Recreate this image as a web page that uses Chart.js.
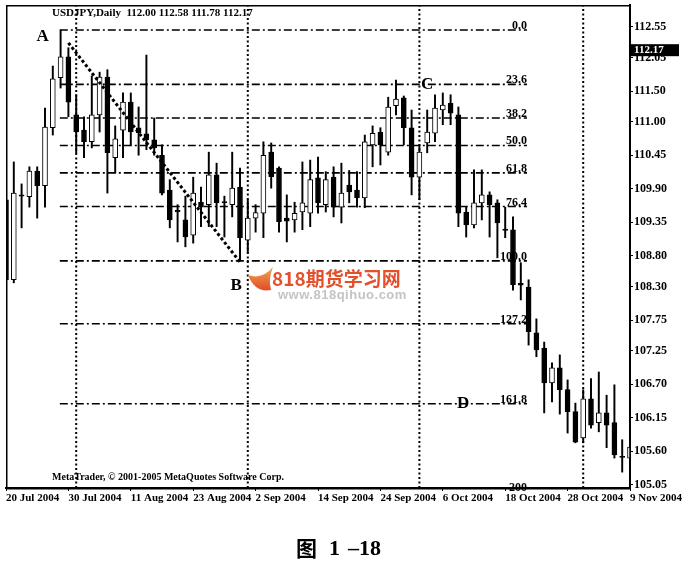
<!DOCTYPE html>
<html>
<head>
<meta charset="utf-8">
<script src="https://cdn.jsdelivr.net/npm/chart.js@4.4.1/dist/chart.umd.min.js"></script>
<style>
  html, body { margin: 0; padding: 0; background: #fff; }
  canvas { display: block; }
</style>
</head>
<body>
<canvas id="chart" width="682" height="563"></canvas>
<script>
// USDJPY daily, 20 Jul 2004 - 9 Nov 2004 (one bar per trading day)
const OPEN  = [109.72,108.41,109.80,109.77,110.19,109.95,110.90,111.72,112.06,111.11,
               110.86,110.67,111.11,111.73,110.41,110.86,111.32,110.90,110.80,110.70,
               110.45,109.88,109.55,109.39,109.14,109.68,109.64,110.13,109.69,109.64,
               109.93,109.06,109.42,109.50,110.50,110.24,109.42,109.39,109.52,109.50,
               110.08,109.64,110.09,109.60,109.96,109.88,109.75,110.62,110.83,110.50,
               111.26,111.39,110.90,110.09,110.65,110.81,111.19,111.30,111.11,109.52,
               109.31,109.67,109.80,109.67,109.24,109.23,108.35,108.29,107.54,107.29,
               106.72,106.97,106.61,106.25,105.82,106.46,106.07,106.23,106.07,105.52,
               105.49];
const HIGH  = [109.88,110.34,109.98,110.26,110.26,111.22,111.91,112.50,112.21,111.44,
               111.08,111.75,111.81,111.85,110.93,111.47,111.47,111.24,112.09,111.06,
               110.62,110.05,109.64,109.78,110.09,109.93,110.50,110.32,109.78,110.50,
               110.24,109.72,109.64,110.67,110.65,110.26,109.80,109.68,110.34,110.37,
               110.42,110.18,110.26,110.32,110.20,110.18,110.78,110.93,110.90,111.40,
               111.68,111.42,111.19,110.62,111.19,111.44,111.47,111.44,111.24,109.60,
               110.21,110.21,109.85,109.72,109.60,109.44,108.69,108.41,107.77,107.39,
               107.05,107.18,106.77,106.39,106.61,106.79,106.90,106.52,106.69,105.79,
               105.95];
const LOW   = [107.87,108.36,109.26,109.60,109.42,109.60,110.78,111.55,111.08,110.49,
               110.41,110.57,110.83,109.83,110.16,110.41,110.62,110.45,110.54,110.45,
               109.80,109.26,109.03,108.95,109.01,109.28,109.28,109.28,109.11,109.44,
               108.72,108.85,109.19,109.10,109.91,109.19,109.03,109.19,109.23,109.28,
               109.50,109.52,109.44,109.34,109.67,109.60,109.59,110.26,110.29,110.45,
               111.11,110.62,109.80,109.72,110.49,110.67,110.95,110.95,109.28,109.11,
               109.26,109.39,109.11,108.77,109.10,108.24,108.08,107.34,107.15,106.23,
               106.41,106.21,105.90,105.74,105.74,105.98,105.92,105.66,105.49,105.26,
               105.45];
const CLOSE = [108.41,109.83,109.78,110.19,109.95,110.91,111.70,112.06,111.32,110.83,
               110.67,111.11,111.73,110.49,110.72,111.32,110.83,110.82,110.70,110.57,
               109.83,109.39,109.52,109.11,109.83,109.60,110.13,109.67,109.67,109.91,
               109.10,109.42,109.51,110.45,110.10,109.36,109.37,109.50,109.67,110.05,
               109.67,110.05,109.60,109.83,109.85,109.75,110.67,110.81,110.62,111.24,
               111.37,110.90,110.09,110.50,110.83,111.22,111.27,111.14,109.50,109.31,
               109.67,109.80,109.64,109.34,109.22,108.33,108.32,107.56,107.26,106.72,
               106.97,106.61,106.25,105.75,106.46,106.03,106.23,106.03,105.54,105.50,
               105.67];

const X_TICK_BARS   = [0, 8, 16, 24, 32, 40, 48, 56, 64, 72, 80];
const X_TICK_LABELS = ['20 Jul 2004', '30 Jul 2004', '11 Aug 2004', '23 Aug 2004', '2 Sep 2004',
                       '14 Sep 2004', '24 Sep 2004', '6 Oct 2004', '18 Oct 2004', '28 Oct 2004', '9 Nov 2004'];
const Y_TICKS = [112.55, 112.05, 111.50, 111.00, 110.45, 109.90, 109.35, 108.80,
                 108.30, 107.75, 107.25, 106.70, 106.15, 105.60, 105.05];
const Y_MIN = 105.00, Y_MAX = 112.91;

// Fibonacci retracement A (112.50) -> B (108.72)
const FIB_LABELS = ['0.0', '23.6', '38.2', '50.0', '61.8', '76.4', '100.0', '127.2', '161.8', '200'];
const FIB_PRICES = [112.50, 111.61, 111.06, 110.61, 110.16, 109.61, 108.72, 107.69, 106.38, 104.94];
const FIB_FROM = 6.9, FIB_TO = 66.8;

const TREND_BARS   = [8, 30];
const TREND_PRICES = [112.29, 108.70];

const SEPARATOR_BARS = [9, 31, 53, 74];   // first bar of Aug, Sep, Oct, Nov

const POINT_NAMES  = ['A', 'B', 'C', 'D'];
const POINT_BARS   = [4.7, 29.5, 54, 58.6];
const POINT_PRICES = [112.39, 108.32, 111.60, 106.39];

const TITLE_TEXT = 'USDJPY,Daily  112.00 112.58 111.78 112.17';
const LAST_PRICE = 112.17;

const SERIF = '"Liberation Serif", "DejaVu Serif", serif';

const bodies = OPEN.map((o, i) => ({ x: i, y: [o, CLOSE[i]] }));
const wicks = HIGH.map((h, i) => ({ x: i, y: [LOW[i], h] }));
const bodyColors = OPEN.map((o, i) => CLOSE[i] >= o ? '#ffffff' : '#000000');

const fibSets = FIB_PRICES.map(p => ({
    type: 'line',
    data: [{ x: FIB_FROM, y: p }, { x: FIB_TO, y: p }],
    borderColor: '#000', borderWidth: 1.6, borderDash: [8, 3, 2, 3],
    pointRadius: 0, order: 3
}));

const sepSets = SEPARATOR_BARS.map(b => ({
    type: 'line',
    data: [{ x: b, y: Y_MIN }, { x: b, y: Y_MAX }],
    borderColor: '#000', borderWidth: 2, borderDash: [2, 2.5],
    pointRadius: 0, order: 4
}));

const overlay = {
    id: 'overlay',
    afterDraw(chart) {
        const { ctx, chartArea: a, scales: { x, y } } = chart;
        ctx.save();

        // plot frame
        ctx.strokeStyle = '#000';
        ctx.lineWidth = 1.5;
        ctx.strokeRect(a.left + 0.75, a.top + 0.75, a.right - a.left - 0.75, a.bottom - a.top);

        ctx.fillStyle = '#000';
        ctx.textBaseline = 'middle';
        ctx.textAlign = 'left';
        ctx.font = 'bold 11px ' + SERIF;
        ctx.fillText(TITLE_TEXT, 52, 13);

        ctx.font = 'bold 10px ' + SERIF;
        ctx.fillText('MetaTrader, \u00a9 2001-2005 MetaQuotes Software Corp.', 52, 477);

        // fib level texts
        ctx.font = 'bold 12px ' + SERIF;
        ctx.textAlign = 'right';
        ctx.textBaseline = 'alphabetic';
        const fx = x.getPixelForValue(FIB_TO);
        FIB_PRICES.forEach((p, i) => {
            ctx.fillText(FIB_LABELS[i], fx, y.getPixelForValue(p) - 1);
        });

        // swing points
        ctx.font = 'bold 17px ' + SERIF;
        ctx.textAlign = 'center';
        ctx.textBaseline = 'middle';
        POINT_NAMES.forEach((n, i) => {
            ctx.fillText(n, x.getPixelForValue(POINT_BARS[i]), y.getPixelForValue(POINT_PRICES[i]));
        });

        // last price box on the axis
        const ly = y.getPixelForValue(LAST_PRICE);
        ctx.fillRect(a.right + 1, ly - 6, 48, 12);
        ctx.fillStyle = '#fff';
        ctx.font = 'bold 11px ' + SERIF;
        ctx.textAlign = 'left';
        ctx.fillText(LAST_PRICE.toFixed(2), a.right + 4, ly);

        // site watermark
        const g = ctx.createLinearGradient(0, 268, 0, 292);
        g.addColorStop(0, '#f2a24a');
        g.addColorStop(1, '#e0452a');
        ctx.fillStyle = g;
        ctx.beginPath();
        ctx.moveTo(248, 275);
        ctx.quadraticCurveTo(255, 293, 271, 290);
        ctx.quadraticCurveTo(268, 279, 273, 267);
        ctx.quadraticCurveTo(262, 280, 248, 275);
        ctx.fill();
        ctx.fillStyle = '#e4502c';
        ctx.font = 'bold 19px "Noto Sans CJK SC", sans-serif';
        ctx.fillText('818期货学习网', 272, 279);
        ctx.fillStyle = '#c4c4c4';
        ctx.font = 'bold 13px "Liberation Sans", sans-serif';
        ctx.letterSpacing = '0.5px';
        ctx.fillText('www.818qihuo.com', 278, 295);
        ctx.letterSpacing = '0px';

        // caption
        ctx.fillStyle = '#000';
        ctx.font = 'bold 21px "Noto Sans CJK SC", sans-serif';
        ctx.fillText('图', 296, 548);
        ctx.font = 'bold 22px ' + SERIF;
        ctx.fillText('1', 329, 549);
        ctx.fillText('\u201318', 348, 549);

        ctx.restore();
    }
};

new Chart(document.getElementById('chart'), {
    type: 'bar',
    data: {
        datasets: [
            {
                type: 'line',
                data: TREND_BARS.map((b, i) => ({ x: b, y: TREND_PRICES[i] })),
                borderColor: '#000', borderWidth: 3, borderDash: [3, 2.5],
                pointRadius: 0, order: 0
            },
            {
                data: bodies, backgroundColor: bodyColors, borderColor: '#000',
                borderWidth: 1, borderSkipped: false, barThickness: 5, grouped: false, order: 1
            },
            {
                data: wicks, backgroundColor: '#000', borderWidth: 0,
                barThickness: 1.3, grouped: false, order: 2
            },
            ...fibSets,
            ...sepSets
        ]
    },
    options: {
        responsive: false,
        animation: false,
        devicePixelRatio: 1,
        layout: { padding: { left: 6, top: 5, right: 0, bottom: 58 } },
        plugins: { legend: { display: false }, tooltip: { enabled: false } },
        scales: {
            x: {
                type: 'linear', min: 0, max: 80, offset: false,
                afterBuildTicks: s => { s.ticks = X_TICK_BARS.map(v => ({ value: v })); },
                afterFit: s => { s.height = 17; s.paddingLeft = 0; s.paddingRight = 0; },
                ticks: {
                    callback: v => X_TICK_LABELS[X_TICK_BARS.indexOf(v)],
                    align: 'start', autoSkip: false, maxRotation: 0, minRotation: 0,
                    color: '#000', padding: 1,
                    font: { family: SERIF, weight: 'bold', size: 11 }
                },
                grid: { drawOnChartArea: false, drawTicks: true, tickLength: 3, color: '#000', offset: false },
                border: { display: true, color: '#000', width: 2 }
            },
            y: {
                type: 'linear', position: 'right', min: Y_MIN, max: Y_MAX,
                afterBuildTicks: s => { s.ticks = Y_TICKS.map(v => ({ value: v })); },
                afterFit: s => { s.width = 52; s.paddingTop = 0; s.paddingBottom = 0; },
                ticks: {
                    callback: v => v.toFixed(2),
                    autoSkip: false, color: '#000', padding: 1,
                    font: { family: SERIF, weight: 'bold', size: 12 }
                },
                grid: { drawOnChartArea: false, drawTicks: true, tickLength: 3, color: '#000' },
                border: { display: true, color: '#000', width: 2 }
            }
        }
    },
    plugins: [overlay]
});
</script>
</body>
</html>
